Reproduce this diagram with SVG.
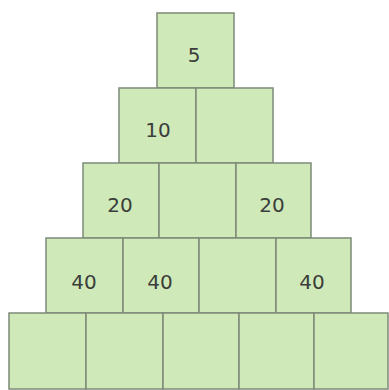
<svg xmlns="http://www.w3.org/2000/svg" width="389" height="390" viewBox="0 0 389 390">
<style>
.b{fill:#d0e9b9;stroke:#7d8a78;stroke-width:1.5}
.t{font-family:"DejaVu Sans","Liberation Sans",sans-serif;font-size:20px;fill:#3a3d3a;text-anchor:middle}
</style>
<rect width="389" height="390" fill="#ffffff"/>
<g id="r1c1"><rect class="b" x="157" y="13" width="77" height="75"/><text class="t" x="194" y="62">5</text></g>
<g id="r2c1"><rect class="b" x="119" y="88" width="77" height="75"/><text class="t" x="158" y="137">10</text></g>
<g id="r2c2"><rect class="b" x="196" y="88" width="77" height="75"/></g>
<g id="r3c1"><rect class="b" x="83" y="163" width="76" height="75"/><text class="t" x="120" y="212">20</text></g>
<g id="r3c2"><rect class="b" x="159" y="163" width="77" height="75"/></g>
<g id="r3c3"><rect class="b" x="236" y="163" width="75" height="75"/><text class="t" x="272" y="212">20</text></g>
<g id="r4c1"><rect class="b" x="46" y="238" width="77" height="75"/><text class="t" x="84" y="289">40</text></g>
<g id="r4c2"><rect class="b" x="123" y="238" width="76" height="75"/><text class="t" x="160" y="289">40</text></g>
<g id="r4c3"><rect class="b" x="199" y="238" width="77" height="75"/></g>
<g id="r4c4"><rect class="b" x="276" y="238" width="75" height="75"/><text class="t" x="312" y="289">40</text></g>
<g id="r5c1"><rect class="b" x="9" y="313" width="77" height="76"/></g>
<g id="r5c2"><rect class="b" x="86" y="313" width="77" height="76"/></g>
<g id="r5c3"><rect class="b" x="163" y="313" width="76" height="76"/></g>
<g id="r5c4"><rect class="b" x="239" y="313" width="75" height="76"/></g>
<g id="r5c5"><rect class="b" x="314" y="313" width="74" height="76"/></g>
<g id="connectors"></g>
</svg>
